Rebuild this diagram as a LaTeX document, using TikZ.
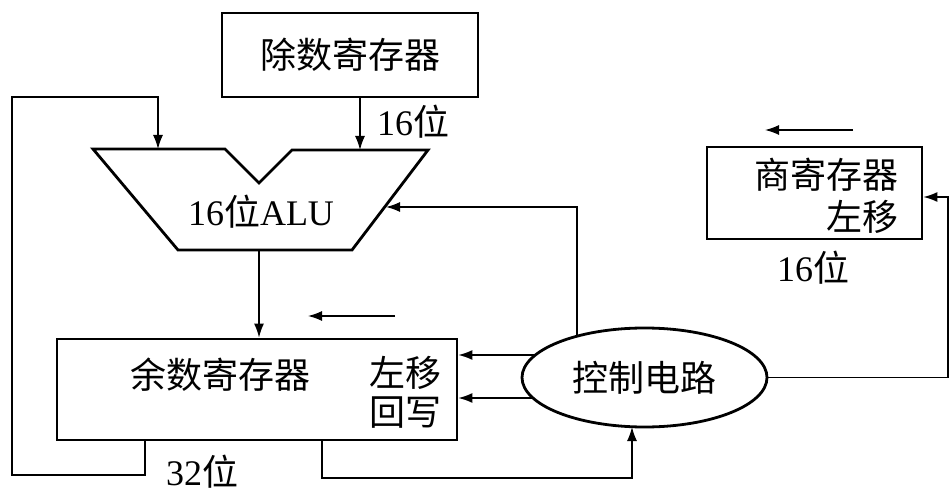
\documentclass[tikz,border=0pt]{standalone}
\usepackage{fontspec}
\setmainfont{Liberation Serif}
\newfontfamily\cjk{Noto Sans CJK SC}
\usetikzlibrary{shapes.geometric,arrows.meta}
\begin{document}
\begin{tikzpicture}[x=1pt,y=-1pt,
  regbox/.style={draw,line width=2.8pt,inner sep=0pt},
  lbl/.style={inner sep=0pt,font=\fontsize{36}{42}\selectfont},
  conn/.style={line width=1.4pt},
  arr/.style={conn,-{Latex[length=14pt,width=10pt]}}]
\useasboundingbox[fill=white] (0,0) rectangle (950,492);
% registers
\node[regbox,minimum width=256pt,minimum height=84pt] (div) at (350,55) {};
\node[lbl] (divt) at (350,55) {\cjk 除数寄存器};
\node[regbox,minimum width=400pt,minimum height=101pt] (rem) at (257,389.5) {};
\node[lbl] (remt) at (220,375) {\cjk 余数寄存器};
\node[lbl] (remshift) at (405,373) {\cjk 左移};
\node[lbl] (remwb) at (405,413) {\cjk 回写};
\node[regbox,minimum width=215pt,minimum height=92pt] (quo) at (814.5,193) {};
\node[lbl,anchor=east] (quot) at (899,175) {\cjk 商寄存器};
\node[lbl,anchor=east] (quoshift) at (899,217) {\cjk 左移};
\node[draw,ellipse,line width=2.8pt,minimum width=245pt,minimum height=99pt,inner sep=0pt] (ctrl) at (644.5,377.5) {};
\node[lbl] (ctrlt) at (644.5,377.5) {\cjk 控制电路};
% ALU
\draw[line width=2.8pt,line join=miter] (93,149) -- (225,149) -- (259,183) -- (292,150) -- (428,150) -- (352,250) -- (178,250) -- cycle;
\node[lbl] (alut) at (261,212) {16{\cjk 位}ALU};
% labels
\node[lbl] (l16a) at (413,122) {16{\cjk 位}};
\node[lbl] (l32) at (202,472) {32{\cjk 位}};
\node[lbl] (l16b) at (813,268) {16{\cjk 位}};
% coordinates
\coordinate (aluR) at (360,150);
\coordinate (aluL) at (158,149);
\coordinate (aluB) at (259,250);
\coordinate (aluE) at (386,207);
\coordinate (lp) at (145,0);
\coordinate (bp) at (322,0);
\coordinate (c1) at (577,336);
\coordinate (c2) at (632,427);
\coordinate (s1) at (535.5,355);
\coordinate (s2) at (533,398);
\coordinate (qin) at (948,197);
\coordinate (sa1) at (395,316);
\coordinate (sa2) at (308,316);
\coordinate (sb1) at (853,130);
\coordinate (sb2) at (765,130);
% connectors
\draw[arr] (aluR |- div.south) -- (aluR);
\draw[arr] (rem.south -| lp) -- (145,475) -- (12,475) -- (12,97) -- (158,97) -- (aluL);
\draw[arr] (aluB) -- (aluB |- rem.north);
\draw[arr] (sa1) -- (sa2);
\draw[arr] (sb1) -- (sb2);
\draw[arr] (s1) -- (s1 -| rem.east);
\draw[arr] (s2) -- (s2 -| rem.east);
\draw[arr] (c1) -- (577,207) -- (aluE);
\draw[arr] (rem.south -| bp) -- (322,478) -- (632,478) -- (c2);
\draw[arr] (ctrl.east) -- (948,377.5) -- (qin) -- (qin -| quo.east);
\end{tikzpicture}
\end{document}
